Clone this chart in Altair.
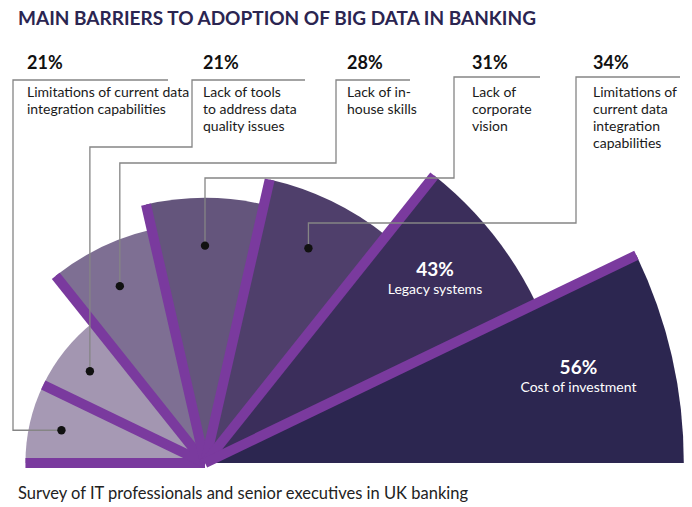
import math
import altair as alt
import pandas as pd

# ---------------- data ----------------
title_text = "MAIN BARRIERS TO ADOPTION OF BIG DATA IN BANKING"
footer_text = "Survey of IT professionals and senior executives in UK banking"

barriers = [
    "Limitations of current data integration capabilities",
    "Lack of tools to address data quality issues",
    "Lack of in-house skills",
    "Lack of corporate vision",
    "Limitations of current data integration capabilities",
    "Legacy systems",
    "Cost of investment",
]
values = [21, 21, 28, 31, 34, 43, 56]
# how each description is broken into lines in the graphic
label_lines = [
    "Limitations of current data\nintegration capabilities",
    "Lack of tools\nto address data\nquality issues",
    "Lack of in-\nhouse skills",
    "Lack of\ncorporate\nvision",
    "Limitations of\ncurrent data\nintegration\ncapabilities",
    "Legacy systems",
    "Cost of investment",
]
wedge_colors = ["#A699B4", "#A396B1", "#7E6F93", "#64557C", "#4F3F6B", "#3B2E5B", "#2C2650"]

# ---------------- layout / style ----------------
W, H = 692, 507
CX, CY = 205, 463          # centre of the fan (pixels)
K = 8.55                   # pixels per percentage point of radius
N = len(values)
PURPLE = "#7A3A9E"
FONT = "Lato"
DOT_FRAC = 0.82
TXT_FRAC = 0.80

# callout boxes (pixels): left line x, top line y, top line right end, elbow y
box_left = [13, 192, 336, 454, 576]
box_top = [80, 80, 80, 77, 77]
box_right = [168, 305, 410, 540, 680]
box_elbow = [None, 147, 163, 178, 223]
text_left = [27, 203, 347, 472, 593]

wedges = pd.DataFrame({
    "idx": list(range(N)),
    "barrier": barriers,
    "value": values,
    "start": list(range(N)),
    "end": [i + 1 for i in range(N)],
    "color": wedge_colors,
})

radius_scale = alt.Scale(type="linear", domain=[0, max(values)], range=[0, max(values) * K], zero=True)
theta_scale = alt.Scale(type="linear", domain=[0, N], range=[1.5 * math.pi, 2.5 * math.pi])

arcs = alt.Chart(wedges).mark_arc(strokeWidth=0).encode(
    theta=alt.Theta("start:Q", scale=theta_scale, stack=None),
    theta2="end:Q",
    radius=alt.Radius("value:Q", scale=radius_scale),
    color=alt.Color("color:N", scale=None, legend=None),
    x=alt.value(CX),
    y=alt.value(CY),
)

# purple separators on the starting edge of each wedge
seps = alt.Chart(wedges).transform_calculate(
    ang=f"PI*datum.idx/{N}",
    px0=f"{CX}",
    py0=f"{CY}",
).transform_calculate(
    px1=f"{CX} - {K}*datum.value*cos(datum.ang)",
    py1=f"{CY} - {K}*datum.value*sin(datum.ang)",
).mark_rule(strokeWidth=10, strokeCap="butt", color=PURPLE).encode(
    x=alt.X("px0:Q", scale=None, axis=None),
    y=alt.Y("py0:Q", scale=None, axis=None),
    x2="px1:Q",
    y2="py1:Q",
)

# callouts
callouts = pd.DataFrame({
    "idx": list(range(5)),
    "value": values[:5],
    "pct": [f"{v}%" for v in values[:5]],
    "desc": label_lines[:5],
    "tx": text_left,
})

dot_calc = dict(
    dang=f"PI*(datum.idx+0.5)/{N}",
)
dots = alt.Chart(callouts).transform_calculate(**dot_calc).transform_calculate(
    dx=f"{CX} - {K}*{DOT_FRAC}*datum.value*cos(datum.dang)",
    dy=f"{CY} - {K}*{DOT_FRAC}*datum.value*sin(datum.dang)",
).mark_circle(size=70, color="#111111", opacity=1).encode(
    x=alt.X("dx:Q", scale=None, axis=None),
    y=alt.Y("dy:Q", scale=None, axis=None),
)

rows = []
for i in range(5):
    for v in range(5):
        rows.append({
            "idx": i, "value": values[i], "vertex": v,
            "lx": box_left[i], "top": box_top[i], "right": box_right[i], "elbow": box_elbow[i],
        })
leader_df = pd.DataFrame(rows)

leaders = alt.Chart(leader_df).transform_calculate(**dot_calc).transform_calculate(
    dx=f"{CX} - {K}*{DOT_FRAC}*datum.value*cos(datum.dang)",
    dy=f"{CY} - {K}*{DOT_FRAC}*datum.value*sin(datum.dang)",
).transform_calculate(
    ey="isValid(datum.elbow) ? datum.elbow : datum.dy",
).transform_calculate(
    lxp="datum.vertex == 0 ? datum.right : (datum.vertex <= 2 ? datum.lx : datum.dx)",
    lyp="datum.vertex <= 1 ? datum.top : (datum.vertex <= 3 ? datum.ey : datum.dy)",
).mark_line(color="#858585", strokeWidth=1.3).encode(
    x=alt.X("lxp:Q", scale=None, axis=None),
    y=alt.Y("lyp:Q", scale=None, axis=None),
    detail="idx:N",
    order="vertex:Q",
)

pct_text = alt.Chart(callouts).mark_text(
    align="left", baseline="alphabetic", font=FONT, fontSize=18, fontWeight="bold", color="#111111"
).encode(
    x=alt.X("tx:Q", scale=None, axis=None),
    y=alt.value(69),
    text="pct:N",
)

desc_text = alt.Chart(callouts).mark_text(
    align="left", baseline="alphabetic", font=FONT, fontSize=14, color="#1a1a1a",
    lineBreak="\n", lineHeight=17,
).encode(
    x=alt.X("tx:Q", scale=None, axis=None),
    y=alt.value(97),
    text="desc:N",
)

# labels inside the two biggest wedges
inner = pd.DataFrame({
    "idx": [5, 6],
    "value": values[5:],
    "pct": [f"{v}%" for v in values[5:]],
    "name": label_lines[5:],
})
inner_base = alt.Chart(inner).transform_calculate(
    tang=f"PI*(datum.idx+0.5)/{N}",
).transform_calculate(
    tx=f"{CX} - {K}*{TXT_FRAC}*datum.value*cos(datum.tang)",
    ty=f"{CY} - {K}*{TXT_FRAC}*datum.value*sin(datum.tang)",
)
inner_pct = inner_base.mark_text(
    align="center", baseline="middle", font=FONT, fontSize=19, fontWeight="bold", color="white", dy=-10
).encode(
    x=alt.X("tx:Q", scale=None, axis=None),
    y=alt.Y("ty:Q", scale=None, axis=None),
    text="pct:N",
)
inner_name = inner_base.mark_text(
    align="center", baseline="middle", font=FONT, fontSize=14, color="white", dy=10
).encode(
    x=alt.X("tx:Q", scale=None, axis=None),
    y=alt.Y("ty:Q", scale=None, axis=None),
    text="name:N",
)

one = pd.DataFrame({"title": [title_text], "footer": [footer_text]})
title = alt.Chart(one).mark_text(
    align="left", baseline="alphabetic", font=FONT, fontSize=19, fontWeight="bold", color="#2B2551"
).encode(x=alt.value(18), y=alt.value(25), text="title:N")
footer = alt.Chart(one).mark_text(
    align="left", baseline="alphabetic", font=FONT, fontSize=16.5, color="#222222"
).encode(x=alt.value(18), y=alt.value(499), text="footer:N")

chart = alt.layer(
    arcs, seps, leaders, dots, pct_text, desc_text, inner_pct, inner_name, title, footer
).properties(
    width=W, height=H, padding=0, autosize=alt.AutoSizeParams(type="none"), background="white"
).configure_view(stroke=None)

chart.save("out.html", embed_options={"renderer": "svg", "actions": False})
